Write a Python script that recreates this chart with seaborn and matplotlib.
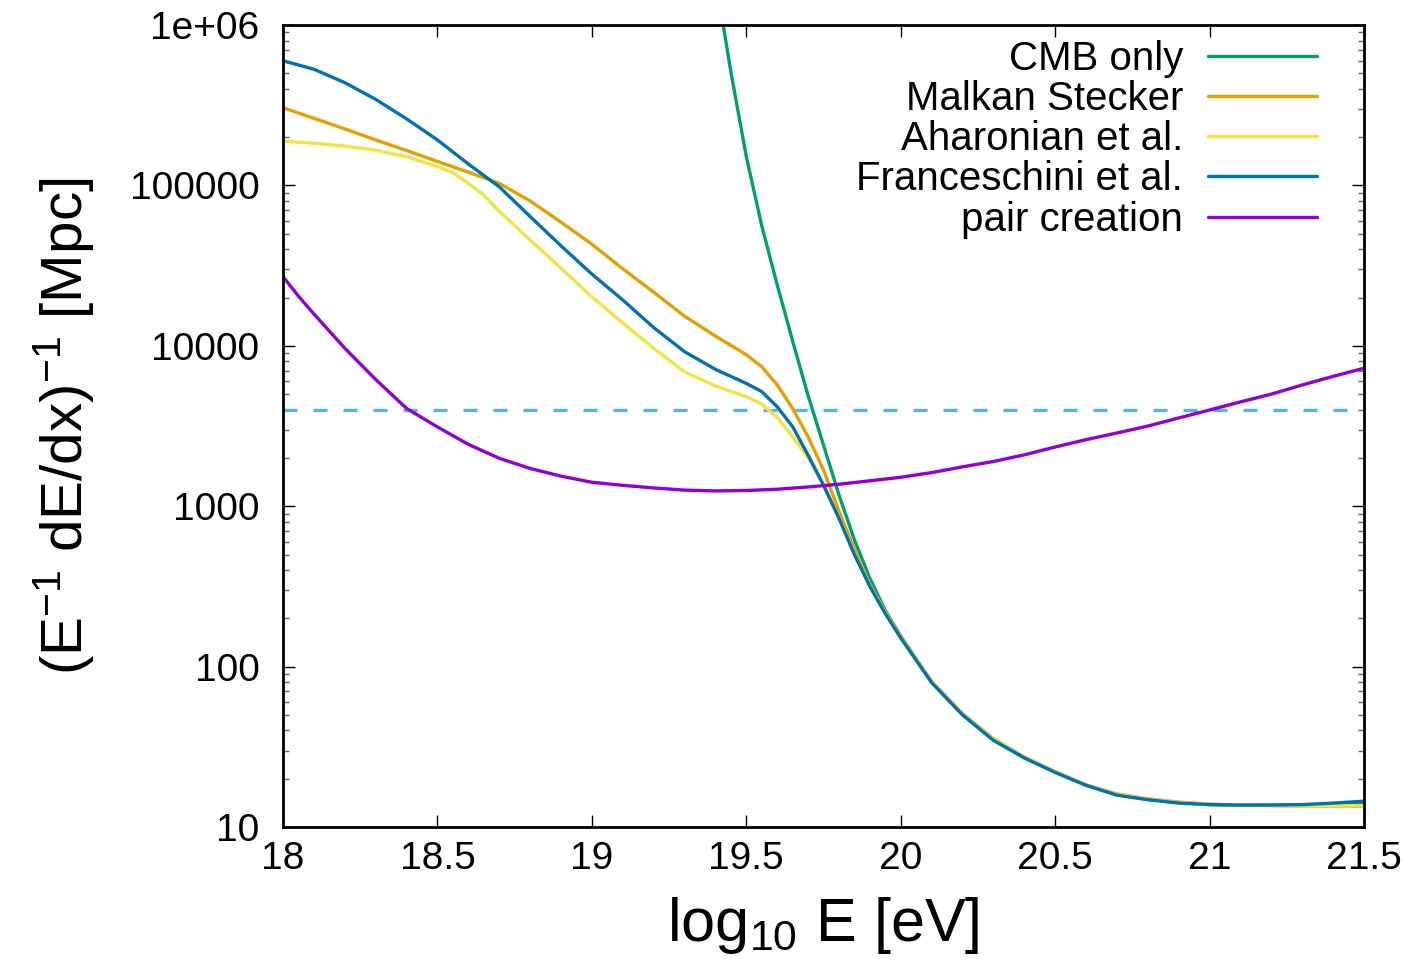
import pandas as pd
import matplotlib
matplotlib.use("Agg")
import matplotlib.pyplot as plt
import seaborn as sns
from matplotlib.lines import Line2D
from matplotlib.ticker import LogLocator, NullFormatter, NullLocator

# valores (x = log10 E [eV], y = longitud de perdida [Mpc])
tail_x = [20.1, 20.2, 20.3, 20.4, 20.5, 20.6, 20.7, 20.8, 20.9, 21.0, 21.1, 21.2, 21.3, 21.4, 21.5]

cmb_x = [19.40, 19.42, 19.45, 19.5, 19.55, 19.6, 19.65, 19.7, 19.75, 19.8, 19.85, 19.9, 19.95, 20.0] + tail_x
cmb_y = [2.0e6, 1.15e6, 5.1e5, 1.51e5, 5.6e4, 2.4e4, 1.07e4, 4900, 2400, 1175, 617, 355, 224, 155,
         80, 50.5, 35, 27, 22, 18.2, 15.9, 14.9, 14.2, 13.8, 13.7, 13.7, 13.7, 13.9, 14.2]

ms_x = [18.0, 18.1, 18.2, 18.3, 18.4, 18.5, 18.6, 18.7, 18.8, 18.9, 19.0, 19.1, 19.2, 19.3, 19.4,
        19.5, 19.55, 19.6, 19.65, 19.7, 19.75, 19.8, 19.85, 19.9, 19.95, 20.0] + tail_x
ms_y = [3.05e5, 2.62e5, 2.25e5, 1.92e5, 1.65e5, 1.41e5, 1.21e5, 1.03e5, 8.0e4, 5.9e4, 4.3e4, 3.02e4,
        2.16e4, 1.53e4, 1.15e4, 8800, 7410, 5700, 4070, 2710, 1680, 930, 540, 325, 220, 155,
        81, 51, 35.6, 27.3, 22.2, 18.3, 16.1, 15.0, 14.3, 13.9, 13.7, 13.6, 13.5, 13.5, 13.5]

ah_x = [18.0, 18.1, 18.2, 18.3, 18.4, 18.5, 18.55, 18.6, 18.65, 18.7, 18.8, 18.9, 19.0, 19.1, 19.2,
        19.3, 19.4, 19.5, 19.55, 19.6, 19.65, 19.7, 19.75, 19.8, 19.85, 19.9, 19.95, 20.0] + tail_x
ah_y = [1.89e5, 1.83e5, 1.76e5, 1.66e5, 1.51e5, 1.31e5, 1.2e5, 1.03e5, 8.7e4, 6.9e4, 4.57e4, 3.05e4,
        2.02e4, 1.39e4, 9630, 6880, 5620, 4820, 4330, 3580, 2710, 2000, 1340, 850, 505, 318, 215, 152,
        80.5, 50.5, 35.3, 27.2, 22.1, 18.2, 16.0, 14.9, 14.2, 13.85, 13.7, 13.6, 13.55, 13.55, 13.6]

fr_x = [18.0, 18.1, 18.2, 18.3, 18.4, 18.5, 18.6, 18.7, 18.8, 18.9, 19.0, 19.1, 19.2, 19.3, 19.4,
        19.5, 19.55, 19.6, 19.65, 19.7, 19.75, 19.8, 19.85, 19.9, 19.95, 20.0] + tail_x
fr_y = [5.98e5, 5.3e5, 4.37e5, 3.44e5, 2.6e5, 1.92e5, 1.36e5, 9.8e4, 6.4e4, 4.2e4, 2.8e4, 1.93e4,
        1.30e4, 9190, 7130, 5830, 5180, 4170, 3130, 2080, 1355, 840, 500, 316, 214, 151,
        79.5, 50, 34.7, 27, 21.9, 18.2, 15.8, 14.8, 14.1, 13.8, 13.7, 13.7, 13.8, 14.1, 14.5]

pair_x = [18.0, 18.05, 18.1, 18.2, 18.3, 18.4, 18.5, 18.6, 18.7, 18.8, 18.9, 19.0, 19.1, 19.2, 19.3,
          19.4, 19.5, 19.6, 19.7, 19.8, 19.9, 20.0] + tail_x
pair_y = [27000, 20400, 15800, 9660, 6170, 4070, 3120, 2430, 1990, 1720, 1540, 1410, 1350, 1300, 1260,
          1245, 1253, 1276, 1318, 1371, 1440, 1515, 1620, 1760, 1900, 2090, 2340, 2600, 2860, 3160,
          3550, 3980, 4470, 5000, 5700, 6450, 7250]

threshold = 4000

names = ["CMB only", "Malkan Stecker", "Aharonian et al.", "Franceschini et al.", "pair creation"]
colors = ["#009e73", "#e69f00", "#f0e442", "#0072b2", "#9400d3"]

x_ticks = [18, 18.5, 19, 19.5, 20, 20.5, 21, 21.5]
x_tick_labels = ["18", "18.5", "19", "19.5", "20", "20.5", "21", "21.5"]
y_ticks = [10, 100, 1000, 10000, 100000, 1000000]
y_tick_labels = ["10", "100", "1000", "10000", "100000", "1e+06"]

series = [(cmb_x, cmb_y), (ms_x, ms_y), (ah_x, ah_y), (fr_x, fr_y), (pair_x, pair_y)]
df = pd.concat([pd.DataFrame({"logE": xs, "L": ys, "model": n})
                for n, (xs, ys) in zip(names, series)], ignore_index=True)

sns.set_style("ticks")
plt.rcParams["font.family"] = ["Liberation Sans", "DejaVu Sans"]
plt.rcParams["mathtext.fontset"] = "custom"
plt.rcParams["mathtext.rm"] = "Liberation Sans"
plt.rcParams["mathtext.it"] = "Liberation Sans:italic"
plt.rcParams["text.color"] = "black"
plt.rcParams["axes.labelcolor"] = "black"
plt.rcParams["xtick.color"] = "black"
plt.rcParams["ytick.color"] = "black"

fig = plt.figure(figsize=(14.15, 9.61), dpi=100)
ax = fig.add_axes([0.2, 0.1394, 0.764, 0.8346])

ax.axhline(threshold, color="#56b4e9", lw=2.4, dashes=(4.2, 4.8), zorder=1)
sns.lineplot(data=df, x="logE", y="L", hue="model", hue_order=names,
             palette=colors, lw=2.4, estimator=None, legend=False, ax=ax, zorder=2)

ax.set_yscale("log")
ax.set_xlim(18, 21.5)
ax.set_ylim(10, 1e6)
ax.set_xticks(x_ticks)
ax.set_xticklabels(x_tick_labels)
ax.set_yticks(y_ticks)
ax.set_yticklabels(y_tick_labels)
ax.xaxis.set_minor_locator(NullLocator())
ax.yaxis.set_minor_locator(LogLocator(base=10, subs=range(2, 10)))
ax.yaxis.set_minor_formatter(NullFormatter())

ax.tick_params(which="both", direction="in", top=True, right=True)
ax.tick_params(which="major", length=8.6, width=1, labelsize=28, color="black")
ax.tick_params(which="minor", length=4.3, width=1, color="0.4")
ax.tick_params(axis="y", which="major", pad=17)
ax.tick_params(axis="x", which="major", pad=10)
for s in ax.spines.values():
    s.set_linewidth(2)
    s.set_color("black")

ax.set_xlabel(r"$\mathregular{log_{10}}$ E [eV]", fontsize=44)
ax.set_ylabel(r"(E$^{\mathregular{-1}}$ dE/dx)$^{\mathregular{-1}}$ [Mpc]", fontsize=42)
ax.yaxis.set_label_coords(-0.173, 0.5)
ax.xaxis.set_label_coords(0.5, -0.085)

handles = [Line2D([], [], color=c, lw=2.4) for c in colors]
ax.legend(handles, names, loc="upper right", bbox_to_anchor=(0.9565, 0.9815),
          frameon=False, markerfirst=False, fontsize=29, handlelength=2.7,
          handletextpad=0.63, labelspacing=0.055, borderaxespad=0, borderpad=0)

fig.savefig("out.png", dpi=100)
